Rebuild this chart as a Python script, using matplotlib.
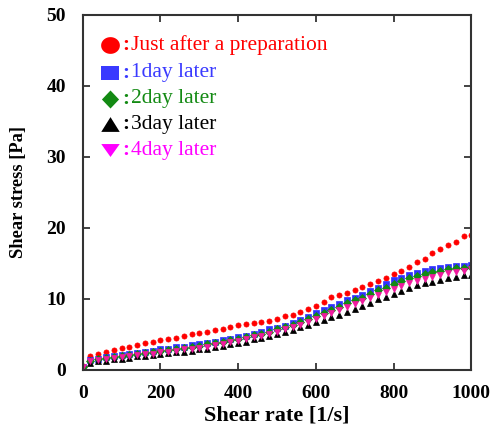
import matplotlib
matplotlib.use("Agg")
import numpy as np
import matplotlib.pyplot as plt
from matplotlib.lines import Line2D
from matplotlib.path import Path

plt.rcParams['font.family'] = ['Liberation Serif', 'DejaVu Serif']

# Shear rate [1/s]
shear_rate = [0, 20, 40, 60, 80, 100, 120, 140, 160, 180, 200, 220, 240, 260, 280,
              300, 320, 340, 360, 380, 400, 420, 440, 460, 480, 500, 520, 540, 560,
              580, 600, 620, 640, 660, 680, 700, 720, 740, 760, 780, 800, 820, 840,
              860, 880, 900, 920, 940, 960, 980, 1000]

# Shear stress [Pa] for each sample
stress_day0 = [0.5, 2.0, 2.3, 2.6, 2.8, 3.1, 3.3, 3.5, 3.75, 4.0, 4.2, 4.3, 4.55, 4.8,
               5.05, 5.2, 5.4, 5.6, 5.75, 6.05, 6.3, 6.5, 6.65, 6.8, 6.95, 7.2, 7.55,
               7.8, 8.2, 8.55, 8.95, 9.6, 10.3, 10.55, 10.9, 11.3, 11.7, 12.1, 12.5,
               12.95, 13.5, 13.9, 14.5, 15.2, 15.6, 16.4, 17.0, 17.6, 18.0, 18.8, 19.0]
stress_day1 = [0.4, 1.4, 1.6, 1.8, 1.9, 2.1, 2.3, 2.4, 2.6, 2.7, 2.9, 3.0, 3.2, 3.3,
               3.5, 3.6, 3.8, 4.0, 4.2, 4.4, 4.6, 4.8, 5.1, 5.4, 5.7, 5.9, 6.2, 6.6,
               7.1, 7.5, 8.0, 8.4, 8.9, 9.3, 9.8, 10.2, 10.6, 11.1, 11.6, 12.1, 12.6,
               13.0, 13.3, 13.6, 13.9, 14.2, 14.4, 14.5, 14.6, 14.7, 14.8]
stress_day2 = [0.4, 1.3, 1.5, 1.7, 1.8, 2.0, 2.1, 2.3, 2.4, 2.5, 2.7, 2.8, 3.0, 3.1,
               3.3, 3.4, 3.6, 3.8, 4.0, 4.2, 4.4, 4.6, 4.9, 5.1, 5.4, 5.7, 6.0, 6.3,
               6.8, 7.2, 7.6, 8.0, 8.5, 8.9, 9.4, 9.8, 10.2, 10.7, 11.2, 11.6, 12.1,
               12.5, 12.9, 13.2, 13.5, 13.8, 14.0, 14.2, 14.3, 14.4, 14.5]
stress_day3 = [0.2, 1.0, 1.2, 1.3, 1.5, 1.6, 1.7, 1.9, 2.0, 2.1, 2.2, 2.4, 2.5, 2.6,
               2.7, 2.9, 3.0, 3.2, 3.4, 3.6, 3.8, 4.0, 4.3, 4.5, 4.8, 5.0, 5.3, 5.6,
               6.0, 6.3, 6.7, 7.0, 7.4, 7.8, 8.2, 8.6, 9.0, 9.4, 10.0, 10.3, 10.7,
               11.1, 11.5, 11.9, 12.2, 12.4, 12.7, 12.9, 13.1, 13.3, 13.4]
stress_day4 = [0.4, 1.2, 1.4, 1.5, 1.7, 1.8, 1.9, 2.1, 2.2, 2.3, 2.5, 2.6, 2.7, 2.9,
               3.0, 3.1, 3.3, 3.5, 3.7, 3.9, 4.1, 4.3, 4.6, 4.8, 5.1, 5.4, 5.7, 6.0,
               6.4, 6.8, 7.2, 7.6, 8.0, 8.4, 8.9, 9.3, 9.7, 10.2, 10.6, 11.0, 11.4,
               11.8, 12.2, 12.5, 12.8, 13.1, 13.4, 13.6, 13.8, 14.0, 14.2]

labels = ["Just after a preparation", "1day later", "2day later", "3day later", "4day later"]
series = [stress_day0, stress_day1, stress_day2, stress_day3, stress_day4]
markers = ["o", "s", "D", "^", "v"]
colors = ["#ff0000", "#3030ff", "#138a13", "#000000", "#f21aa0"]
text_colors = ["#ff0000", "#3a3aff", "#138a13", "#000000", "#ff00ff"]


def wide_marker(vertices, sx, sy):
    """Build a closed marker path from a polygon, stretched by (sx, sy)."""
    v = np.asarray(vertices, dtype=float) * [sx, sy]
    v = np.vstack([v, v[:1]])
    codes = [Path.MOVETO] + [Path.LINETO] * (len(v) - 2) + [Path.CLOSEPOLY]
    return Path(v, codes)


theta = np.linspace(0, 2 * np.pi, 60, endpoint=False)
circle_pts = np.column_stack([np.cos(theta), np.sin(theta)])
legend_markers = [
    wide_marker(circle_pts, 1.12, 1.0),
    wide_marker([[-1, -1], [1, -1], [1, 1], [-1, 1]], 1.0, 0.75),
    wide_marker([[0, -1], [1, 0], [0, 1], [-1, 0]], 0.95, 1.0),
    wide_marker([[-1, -0.8], [1, -0.8], [0, 0.8]], 1.0, 1.0),
    wide_marker([[-1, 0.7], [1, 0.7], [0, -0.7]], 1.0, 1.0),
]
legend_sizes = [13.5, 12.5, 13.0, 13.3, 13.3]

fig = plt.figure(figsize=(4.95, 4.33), dpi=100)
ax = fig.add_axes([82.7 / 495, 1 - 370 / 433, (471.3 - 82.7) / 495, (370 - 14.7) / 433])

for y, m, c in zip(series, markers, colors):
    ax.plot(shear_rate, y, linestyle="none", marker=m, markersize=3.7,
            markerfacecolor=c, markeredgecolor=c, markeredgewidth=0.5)

ax.set_xlim(0, 1000)
ax.set_ylim(0, 50)
ax.set_xticks([0, 200, 400, 600, 800, 1000])
ax.set_yticks([0, 10, 20, 30, 40, 50])
ax.tick_params(direction="in", length=5, width=1.2, top=True, right=True,
               labelsize=14, color="#222222")
ax.tick_params(axis="y", pad=12)
ax.tick_params(axis="x", pad=11)
for lab in ax.get_xticklabels() + ax.get_yticklabels():
    lab.set_fontweight("bold")
for sp in ax.spines.values():
    sp.set_linewidth(1.5)
    sp.set_color("#333333")

ax.set_xlabel("Shear rate [1/s]", fontsize=16, fontweight="bold", labelpad=2)
ax.set_ylabel("Shear stress [Pa]", fontsize=13.3, fontweight="bold", labelpad=14)

# Legend: coloured symbol, colon and caption
row_y = [45, 73, 99, 124, 150]
for py, lm, ls, tc, lab in zip(row_y, legend_markers, legend_sizes, text_colors, labels):
    fy = 1 - py / 433
    fig.add_artist(Line2D([110 / 495], [fy], transform=fig.transFigure, marker=lm,
                          markersize=ls, color=tc, markeredgewidth=0, linestyle="none"))
    fig.text(122 / 495, fy, ":", color=tc, fontsize=15, fontweight="bold",
             ha="left", va="center")
    fig.text(131 / 495, fy, lab, color=tc, fontsize=15.5, ha="left", va="center")

fig.savefig("out.png", dpi=100)
